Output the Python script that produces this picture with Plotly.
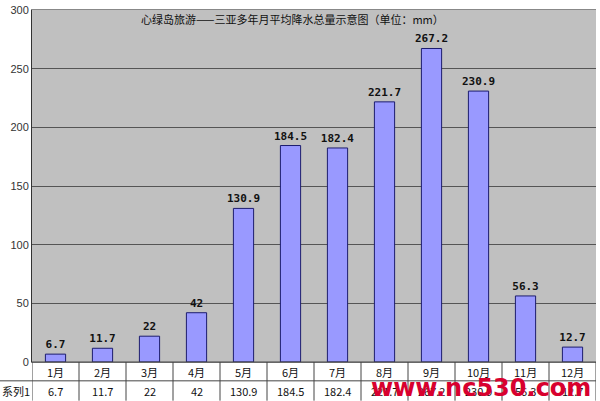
import plotly.graph_objects as go

months = ["1月", "2月", "3月", "4月", "5月", "6月", "7月", "8月", "9月", "10月", "11月", "12月"]
rain = [6.7, 11.7, 22, 42, 130.9, 184.5, 182.4, 221.7, 267.2, 230.9, 56.3, 12.7]
labels = ["6.7", "11.7", "22", "42", "130.9", "184.5", "182.4", "221.7", "267.2", "230.9", "56.3", "12.7"]
series_name = "系列1"
title = "心绿岛旅游——三亚多年月平均降水总量示意图（单位：mm）"
watermark = "www.nc530.com"
yticks = [0, 50, 100, 150, 200, 250, 300]

W, H = 600, 401
ml, mr, mt, mb = 32, 4, 7, 39
ph = H - mt - mb
pw = W - ml - mr
cjk = "Noto Sans CJK SC"

xs = list(range(len(months)))
fig = go.Figure()
fig.add_trace(go.Bar(
    x=xs, y=rain, text=labels, textposition="outside", cliponaxis=False,
    constraintext="none",
    textfont=dict(family="DejaVu Sans Mono", size=11, color="#111"),
    texttemplate="<b>%{text}</b>",
    marker=dict(color="#9999FF", line=dict(color="#1c1c6e", width=1)),
    width=0.43, hoverinfo="skip"))

row1 = -19 / ph
row2 = -39 / ph
left = -ml / pw
shapes = []
shapes.append(dict(type="rect", xref="paper", yref="paper", x0=left, x1=1, y0=row2, y1=0,
                   fillcolor="white", line=dict(width=0), layer="below"))
for yy in [0, row1]:
    shapes.append(dict(type="line", xref="paper", yref="paper", x0=left if yy != 0 else 0, x1=1,
                       y0=yy, y1=yy, line=dict(color="#444", width=1)))
for i in range(len(months) + 1):
    shapes.append(dict(type="line", xref="x", yref="paper", x0=i - 0.5, x1=i - 0.5, y0=row2, y1=0,
                       line=dict(color="#444", width=1)))

ann = []
for i, m in enumerate(months):
    ann.append(dict(x=i, y=-10 / ph, xref="x", yref="paper", text=m, showarrow=False,
                    xanchor="center", yanchor="middle",
                    font=dict(family=cjk, size=11, color="#111")))
    ann.append(dict(x=i, y=-29 / ph, xref="x", yref="paper", text=labels[i], showarrow=False,
                    xanchor="center", yanchor="middle",
                    font=dict(family=cjk, size=11, color="#111")))
ann.append(dict(x=left, y=-29 / ph, xref="paper", yref="paper", text=series_name,
                showarrow=False, xanchor="left", yanchor="middle", font=dict(family=cjk, size=11, color="#111")))
ann.append(dict(x=(292 - ml) / pw, y=1 - (16 - mt) / ph, xref="paper", yref="paper",
                text=title, showarrow=False, xanchor="center", yanchor="middle",
                font=dict(family=cjk, size=11, color="#111")))
ann.append(dict(x=(481 - ml) / pw, y=-(388 - mt - ph) / ph, xref="paper", yref="paper",
                text="<b>" + watermark + "</b>", showarrow=False, xanchor="center", yanchor="middle",
                font=dict(family="DejaVu Sans", size=24, color="#D8002E")))

fig.update_layout(
    width=W, height=H, margin=dict(l=ml, r=mr, t=mt, b=mb),
    paper_bgcolor="white", plot_bgcolor="#C0C0C0",
    showlegend=False, shapes=shapes, annotations=ann,
    xaxis=dict(range=[-0.5, 11.5], showticklabels=False, showgrid=False, zeroline=False,
               showline=True, linecolor="#888", mirror=True, fixedrange=True),
    yaxis=dict(range=[0, 300], tickvals=yticks, showgrid=True, gridcolor="#555", gridwidth=1,
               zeroline=False, showline=True, linecolor="#333", linewidth=1, ticks="",
               tickfont=dict(family="Liberation Sans", size=11, color="#333")),
)
fig.write_html("out.html", config={"displayModeBar": False, "staticPlot": True},
               post_script="document.body.style.margin='0';document.body.style.overflow='hidden';")
